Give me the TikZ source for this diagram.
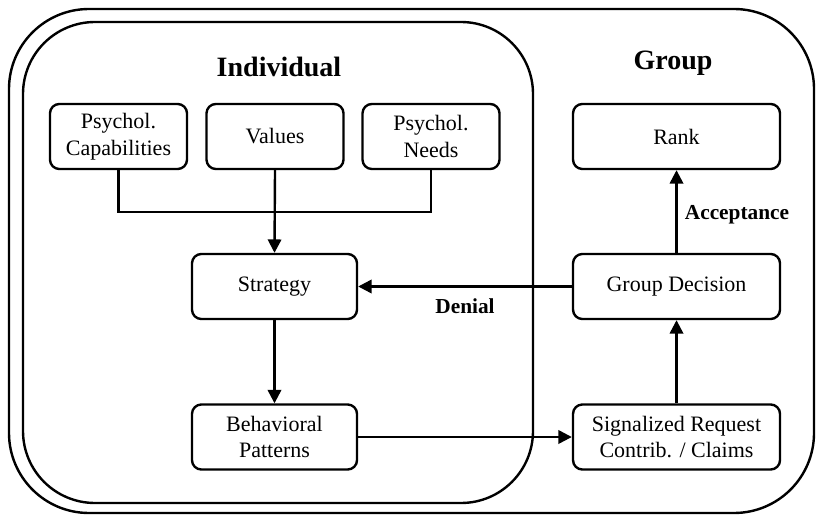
\documentclass[tikz,border=0pt]{standalone}
\usepackage{fontspec}
\setmainfont{Liberation Serif}
\usetikzlibrary{arrows.meta}

\tikzset{
	box/.style={draw, line width=1.8pt, rounded corners=7pt, align=center, font=\fontsize{16.5}{20}\selectfont, inner sep=0pt},
	small/.style={box, minimum width=102.75pt, minimum height=48.75pt},
	wide/.style={box, minimum width=123.75pt, minimum height=48.75pt},
	large/.style={box, minimum width=155.25pt, minimum height=48.75pt},
	arr/.style={line width=1.8pt, -{Triangle[length=10pt,width=10pt]}},
	title/.style={font=\fontsize{21}{24}\selectfont\bfseries},
	lbl/.style={font=\fontsize{16}{20}\selectfont\bfseries}
}

\begin{document}
\begin{tikzpicture}[x=0.75pt,y=-0.75pt]
					\useasboundingbox (0,0) rectangle (816,516);
					\draw[line width=1.8pt, rounded corners=60pt] (9,9) rectangle (814,513);
					\draw[line width=1.8pt, rounded corners=54pt] (23,22) rectangle (533,503);

					\node[title] (ind) at (279,67) {Individual};
					\node[title] (grp) at (673,63) {Group};

					\node[small] (cap) at (118.5,136.5) {Psychol.\\Capabilities};
					\node[small] (val) at (275,136.5) {Values};
					\node[small] (need) at (431,136.5) {Psychol.\\Needs};
					\node[large] (rank) at (676.5,136.5) {Rank};

					\node[wide] (strat) at (274.5,286.5) {Strategy};
					\node[large] (dec) at (676.5,286.5) {Group Decision};

					\node[wide] (beh) at (274.5,437) {Behavioral\\Patterns};
					\node[large] (sig) at (676.5,437) {Signalized Request\\Contrib. / Claims};

					\coordinate (join) at (275,212);
					\draw[line width=1.8pt] (cap.south) |- (join) -| (need.south);
					\draw[arr] (val.south) -- (strat.north);
					\draw[arr] (strat.south) -- (beh.north);
					\draw[arr] (beh.east) -- (sig.west);
					\draw[arr] (sig.north) -- (dec.south);
					\draw[arr] (dec.north) -- (rank.south);
					\draw[arr] (dec.west) -- (strat.east);

					\node[lbl] (acc) at (737,215) {Acceptance};
					\node[lbl] (den) at (465,306) {Denial};
\end{tikzpicture}
\end{document}
